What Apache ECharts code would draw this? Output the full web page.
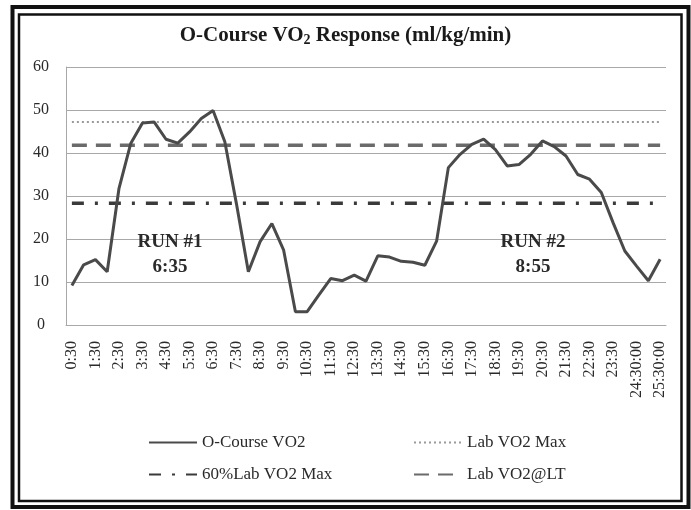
<!DOCTYPE html>
<html>
<head>
<meta charset="utf-8">
<script src="https://cdn.jsdelivr.net/npm/echarts@6/dist/echarts.min.js"></script>
<style>
html,body{margin:0;padding:0;background:#fff;}
#chart{width:691px;height:510px;}
</style>
</head>
<body>
<div id="chart"></div>
<script>
const categories = [
  '0:30','1:00','1:30','2:00','2:30','3:00','3:30','4:00','4:30','5:00',
  '5:30','6:00','6:30','7:00','7:30','8:00','8:30','9:00','9:30','10:00',
  '10:30','11:00','11:30','12:00','12:30','13:00','13:30','14:00','14:30','15:00',
  '15:30','16:00','16:30','17:00','17:30','18:00','18:30','19:00','19:30','20:00',
  '20:30','21:00','21:30','22:00','22:30','23:00','23:30','24:00','24:30:00','25:00:00',
  '25:30:00'
];
const courseVO2 = [
  9.2, 14.0, 15.2, 12.4, 31.7, 42.2, 47.0, 47.2, 43.2, 42.3,
  44.9, 48.0, 49.9, 42.6, 28.0, 12.4, 19.4, 23.6, 17.4, 3.1,
  3.1, 7.0, 10.8, 10.3, 11.6, 10.2, 16.1, 15.8, 14.8, 14.6,
  13.9, 19.5, 36.6, 39.7, 42.0, 43.2, 40.8, 37.0, 37.3, 39.7,
  42.8, 41.5, 39.3, 35.0, 33.9, 30.8, 23.8, 17.2, 13.7, 10.3,
  15.3
];
const labVO2Max = 47.2;
const labVO2LT = 41.8;
const pct60LabVO2Max = 28.3;
const yTicks = [0, 10, 20, 30, 40, 50, 60];
const seriesNames = ['O-Course VO2', 'Lab VO2 Max', '60%Lab VO2 Max', 'Lab VO2@LT'];
const runLabels = [['RUN #1', '6:35'], ['RUN #2', '8:55']];

const serif = '"Liberation Serif", "Times New Roman", serif';
const chart = echarts.init(document.getElementById('chart'), null, {renderer: 'canvas'});

function constLine(v) { return categories.map(() => v); }

const legendCommon = {
  orient: 'vertical',
  top: 434,
  padding: 0,
  itemWidth: 48,
  itemHeight: 14,
  itemGap: 15,
  itemStyle: {opacity: 0},
  textStyle: {fontFamily: serif, fontSize: 17, color: '#2a2a2a'}
};

chart.setOption({
  backgroundColor: '#ffffff',
  animation: false,
  title: {
    text: '{a|O-Course VO}{s|2}{a| Response (ml/kg/min)}',
    left: 'center',
    top: 20,
    textStyle: {
      rich: {
        a: {fontFamily: serif, fontSize: 21, fontWeight: 'bold', color: '#1a1a1a'},
        s: {fontFamily: serif, fontSize: 14, fontWeight: 'bold', color: '#1a1a1a', padding: [8, 0, 0, 0]}
      }
    }
  },
  grid: {left: 66, right: 25, top: 67, bottom: 185, containLabel: false},
  xAxis: {
    type: 'category',
    data: categories,
    boundaryGap: true,
    axisLine: {show: true, lineStyle: {color: '#a8a8a8', width: 1}},
    axisTick: {show: false},
    axisLabel: {
      interval: 1,
      rotate: 90,
      margin: 16,
      fontFamily: serif,
      fontSize: 16,
      color: '#2a2a2a'
    },
    splitLine: {show: false}
  },
  yAxis: {
    type: 'value',
    min: yTicks[0],
    max: yTicks[yTicks.length - 1],
    interval: 10,
    axisLine: {show: true, lineStyle: {color: '#a8a8a8', width: 1}},
    axisTick: {show: false},
    axisLabel: {
      fontFamily: serif,
      fontSize: 16,
      color: '#2a2a2a',
      align: 'center',
      margin: 25
    },
    splitLine: {show: true, lineStyle: {color: '#a8a8a8', width: 1}}
  },
  legend: [
    Object.assign({data: [seriesNames[0], seriesNames[2]], left: 148}, legendCommon),
    Object.assign({data: [seriesNames[1], seriesNames[3]], left: 413}, legendCommon)
  ],
  series: [
    {
      name: seriesNames[1],
      type: 'line',
      data: constLine(labVO2Max),
      symbol: 'none',
      color: '#9a9a9a',
      lineStyle: {color: '#9a9a9a', width: 2, type: [2, 3]},
      z: 2
    },
    {
      name: seriesNames[3],
      type: 'line',
      data: constLine(labVO2LT),
      symbol: 'none',
      color: '#6a6a6a',
      lineStyle: {color: '#6a6a6a', width: 3.5, type: [15, 9]},
      z: 2
    },
    {
      name: seriesNames[2],
      type: 'line',
      data: constLine(pct60LabVO2Max),
      symbol: 'none',
      color: '#3a3a3a',
      lineStyle: {color: '#3a3a3a', width: 3.5, type: [12, 11, 3, 11]},
      z: 2
    },
    {
      name: seriesNames[0],
      type: 'line',
      data: courseVO2,
      symbol: 'none',
      color: '#4a4a4a',
      lineStyle: {color: '#4a4a4a', width: 3},
      z: 3
    }
  ],
  graphic: [
    {type: 'rect', shape: {x: 12.5, y: 7, width: 676, height: 500}, style: {fill: 'none', stroke: '#111', lineWidth: 4}, silent: true},
    {type: 'rect', shape: {x: 19, y: 14.5, width: 662.5, height: 486.5}, style: {fill: 'none', stroke: '#111', lineWidth: 2.5}, silent: true},
    {type: 'text', x: 170, y: 255, style: {text: runLabels[0][0] + '\n' + runLabels[0][1], font: 'bold 19px ' + serif, fill: '#2a2a2a', align: 'center', verticalAlign: 'middle', lineHeight: 25}, z: 10},
    {type: 'text', x: 533, y: 255, style: {text: runLabels[1][0] + '\n' + runLabels[1][1], font: 'bold 19px ' + serif, fill: '#2a2a2a', align: 'center', verticalAlign: 'middle', lineHeight: 25}, z: 10}
  ]
});
</script>
</body>
</html>
